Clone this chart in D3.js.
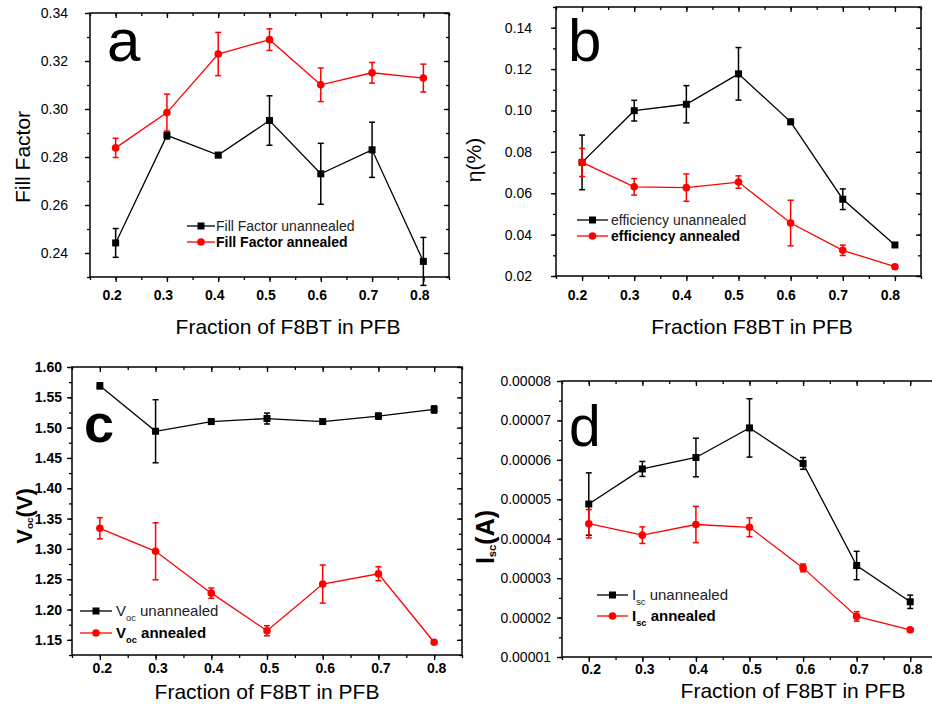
<!DOCTYPE html>
<html>
<head>
<meta charset="utf-8">
<script src="https://cdn.jsdelivr.net/npm/d3@7"></script>
<style>
  html, body { margin: 0; padding: 0; background: #fff; }
  svg { display: block; font-family: "Liberation Sans", Arial, Helvetica, sans-serif; }
</style>
</head>
<body>
<svg id="chart" width="932" height="704"></svg>
<script>
// Blend fraction of F8BT in PFB (shared x values)
const fractions = [0.2, 0.3, 0.4, 0.5, 0.6, 0.7, 0.8];
const xTickLabels = ["0.2", "0.3", "0.4", "0.5", "0.6", "0.7", "0.8"];

// (a) Fill factor
const ffUnannealed    = [0.2442, 0.2890, 0.2808, 0.2952, 0.2730, 0.2830, 0.2365];
const ffUnannealedErr = [0.0060, 0.0015, 0.0010, 0.0103, 0.0127, 0.0115, 0.0100];
const ffAnnealed      = [0.2838, 0.2985, 0.3229, 0.3289, 0.3101, 0.3151, 0.3129];
const ffAnnealedErr   = [0.0040, 0.0077, 0.0090, 0.0045, 0.0070, 0.0043, 0.0058];
const ffTickLabels    = ["0.24", "0.26", "0.28", "0.30", "0.32", "0.34"];

// (b) Power conversion efficiency, %
const effUnannealed    = [0.0749, 0.0999, 0.1030, 0.1177, 0.0945, 0.0571, 0.0350];
const effUnannealedErr = [0.0132, 0.0050, 0.0090, 0.0127, 0.0012, 0.0050, 0.0005];
const effAnnealed      = [0.0749, 0.0631, 0.0627, 0.0654, 0.0456, 0.0324, 0.0245];
const effAnnealedErr   = [0.0068, 0.0040, 0.0066, 0.0030, 0.0110, 0.0025, 0.0010];
const effTickLabels    = ["0.02", "0.04", "0.06", "0.08", "0.10", "0.12", "0.14"];

// (c) Open-circuit voltage, V
const vocUnannealed    = [1.569, 1.494, 1.510, 1.515, 1.510, 1.519, 1.530];
const vocUnannealedErr = [0.005, 0.052, 0.002, 0.009, 0.002, 0.005, 0.006];
const vocAnnealed      = [1.334, 1.296, 1.227, 1.165, 1.242, 1.259, 1.146];
const vocAnnealedErr   = [0.0175, 0.047, 0.0085, 0.0083, 0.0314, 0.0115, 0.002];
const vocTickLabels    = ["1.15", "1.20", "1.25", "1.30", "1.35", "1.40", "1.45", "1.50", "1.55", "1.60"];

// (d) Short-circuit current, A
const iscUnannealed    = [4.88e-5, 5.77e-5, 6.06e-5, 6.81e-5, 5.91e-5, 3.32e-5, 2.40e-5];
const iscUnannealedErr = [0.79e-5, 0.19e-5, 0.49e-5, 0.74e-5, 0.15e-5, 0.36e-5, 0.17e-5];
const iscAnnealed      = [4.38e-5, 4.09e-5, 4.36e-5, 4.29e-5, 3.26e-5, 2.03e-5, 1.69e-5];
const iscAnnealedErr   = [0.36e-5, 0.21e-5, 0.46e-5, 0.24e-5, 0.10e-5, 0.12e-5, 0.05e-5];
const iscTickLabels    = ["0.00001", "0.00002", "0.00003", "0.00004", "0.00005", "0.00006", "0.00007", "0.00008"];

const svg = d3.select("#chart");
const BLACK = "#000", RED = "#ff0000";

function minorSteps(lo, hi, step) {
  const out = [];
  const n = Math.round((hi - lo) / step);
  for (let i = 0; i <= n; i++) out.push(+(lo + i * step).toPrecision(10));
  return out;
}

function drawPanel(cfg) {
  const g = svg.append("g");
  const x = d3.scaleLinear().domain([0.15, 0.85]).range([cfg.left, cfg.right]);
  const y = d3.scaleLinear().domain(cfg.yDomain).range([cfg.bottom, cfg.top]);

  const xVals = xTickLabels.map(Number);
  const yVals = cfg.yLabels.map(Number);
  const xMinor = minorSteps(0.15, 0.85, 0.05);
  const yMinor = minorSteps(cfg.yDomain[0], cfg.yDomain[1], cfg.yMinorStep);

  const styleAxis = sel => {
    sel.select(".domain").remove();
    sel.selectAll("line").attr("stroke", BLACK).attr("stroke-width", 1.3);
  };

  // minor ticks, all four sides
  g.append("g").attr("transform", `translate(0,${cfg.bottom})`)
    .call(d3.axisBottom(x).tickValues(xMinor).tickFormat("").tickSize(3)).call(styleAxis);
  g.append("g").attr("transform", `translate(0,${cfg.top})`)
    .call(d3.axisTop(x).tickValues(xMinor).tickFormat("").tickSize(-3)).call(styleAxis);
  g.append("g").attr("transform", `translate(${cfg.left},0)`)
    .call(d3.axisLeft(y).tickValues(yMinor).tickFormat("").tickSize(3)).call(styleAxis);
  g.append("g").attr("transform", `translate(${cfg.right},0)`)
    .call(d3.axisRight(y).tickValues(yMinor).tickFormat("").tickSize(-3)).call(styleAxis);

  // major ticks with labels on bottom and left
  const xAxis = g.append("g").attr("transform", `translate(0,${cfg.bottom})`)
    .call(d3.axisBottom(x).tickValues(xVals)
      .tickFormat(d => xTickLabels[xVals.indexOf(d)])
      .tickSize(5).tickPadding(cfg.xPad))
    .call(styleAxis);
  xAxis.selectAll("text")
    .attr("font-size", 14).attr("font-weight", "bold").attr("fill", BLACK)
    .attr("dx", cfg.xLabelShift);

  const yAxis = g.append("g").attr("transform", `translate(${cfg.left},0)`)
    .call(d3.axisLeft(y).tickValues(yVals)
      .tickFormat(d => cfg.yLabels[yVals.indexOf(d)])
      .tickSize(5).tickPadding(cfg.yPad))
    .call(styleAxis);
  yAxis.selectAll("text")
    .attr("font-size", 14).attr("font-weight", cfg.yBold ? "bold" : "normal").attr("fill", BLACK);

  g.append("g").attr("transform", `translate(0,${cfg.top})`)
    .call(d3.axisTop(x).tickValues(xVals).tickFormat("").tickSize(-5)).call(styleAxis);
  g.append("g").attr("transform", `translate(${cfg.right},0)`)
    .call(d3.axisRight(y).tickValues(yVals).tickFormat("").tickSize(-5)).call(styleAxis);

  // plot frame
  g.append("rect")
    .attr("x", cfg.left).attr("y", cfg.top)
    .attr("width", cfg.right - cfg.left).attr("height", cfg.bottom - cfg.top)
    .attr("fill", "none").attr("stroke", BLACK).attr("stroke-width", 1.5);

  // data series
  cfg.series.forEach(s => {
    const pts = fractions.map((f, i) => ({ f, v: s.values[i], e: s.errors[i] }));
    const sg = g.append("g");
    sg.append("path")
      .datum(pts)
      .attr("fill", "none").attr("stroke", s.color).attr("stroke-width", 1.3)
      .attr("d", d3.line().x(d => x(d.f)).y(d => y(d.v)));

    const eb = sg.selectAll("g.err").data(pts).join("g").attr("class", "err")
      .attr("stroke", s.color).attr("stroke-width", 1.5);
    eb.append("line")
      .attr("x1", d => x(d.f)).attr("x2", d => x(d.f))
      .attr("y1", d => y(d.v - d.e)).attr("y2", d => y(d.v + d.e));
    eb.append("line")
      .attr("x1", d => x(d.f) - 3).attr("x2", d => x(d.f) + 3)
      .attr("y1", d => y(d.v + d.e)).attr("y2", d => y(d.v + d.e));
    eb.append("line")
      .attr("x1", d => x(d.f) - 3).attr("x2", d => x(d.f) + 3)
      .attr("y1", d => y(d.v - d.e)).attr("y2", d => y(d.v - d.e));

    if (s.marker === "square") {
      sg.selectAll("rect.mk").data(pts).join("rect").attr("class", "mk")
        .attr("x", d => x(d.f) - 3.5).attr("y", d => y(d.v) - 3.5)
        .attr("width", 7).attr("height", 7).attr("fill", s.color);
    } else {
      sg.selectAll("circle.mk").data(pts).join("circle").attr("class", "mk")
        .attr("cx", d => x(d.f)).attr("cy", d => y(d.v)).attr("r", 3.8).attr("fill", s.color);
    }
  });

  // legend
  cfg.series.forEach((s, i) => {
    const ly = cfg.legend.y[i];
    const lx = cfg.legend.x;
    const len = cfg.legend.len;
    g.append("line").attr("x1", lx).attr("x2", lx + len).attr("y1", ly).attr("y2", ly)
      .attr("stroke", s.color).attr("stroke-width", 1.3);
    if (s.marker === "square") {
      g.append("rect").attr("x", lx + len / 2 - 3.5).attr("y", ly - 3.5)
        .attr("width", 7).attr("height", 7).attr("fill", s.color);
    } else {
      g.append("circle").attr("cx", lx + len / 2).attr("cy", ly).attr("r", 3.8).attr("fill", s.color);
    }
    const t = g.append("text")
      .attr("x", cfg.legend.textX).attr("y", ly + cfg.legend.size * 0.36)
      .attr("font-size", cfg.legend.size)
      .attr("font-weight", i === 1 ? "bold" : "normal")
      .attr("fill", i === 1 ? "#000" : "#222");
    s.label.forEach(part => {
      const ts = t.append("tspan").text(part.t);
      if (part.sub) ts.attr("font-size", cfg.legend.size * 0.62).attr("dy", 5);
      if (part.after) ts.attr("dy", -5);
    });
  });

  // panel letter
  g.append("text")
    .attr("x", cfg.letter.x).attr("y", cfg.letter.y)
    .attr("font-size", cfg.letter.size).attr("font-weight", cfg.letter.bold ? "bold" : "normal")
    .attr("fill", BLACK).text(cfg.letter.t);

  // x title
  g.append("text")
    .attr("x", cfg.xTitle.x).attr("y", cfg.xTitle.y)
    .attr("text-anchor", "middle").attr("font-size", 21).attr("fill", BLACK)
    .text(cfg.xTitle.t);

  // y title (rotated)
  const yt = g.append("text")
    .attr("transform", `translate(${cfg.yTitle.x},${cfg.yTitle.y}) rotate(-90)`)
    .attr("text-anchor", "middle").attr("font-size", cfg.yTitle.size)
    .attr("font-weight", cfg.yTitle.bold ? "bold" : "normal").attr("fill", BLACK);
  const subDy = cfg.yTitle.subDy || 0;
  cfg.yTitle.parts.forEach(part => {
    const ts = yt.append("tspan").text(part.t);
    if (part.sub) ts.attr("font-size", cfg.yTitle.size * 0.45).attr("dy", subDy);
    if (part.after) ts.attr("dy", -subDy);
  });
}

drawPanel({
  left: 90, right: 449, top: 13, bottom: 277,
  yDomain: [0.23, 0.34], yMinorStep: 0.01, yLabels: ffTickLabels,
  xPad: 8, yPad: 17, xLabelShift: -4, yBold: false,
  series: [
    { values: ffUnannealed, errors: ffUnannealedErr, color: BLACK, marker: "square",
      label: [{ t: "Fill Factor unannealed" }] },
    { values: ffAnnealed, errors: ffAnnealedErr, color: RED, marker: "circle",
      label: [{ t: "Fill Factor annealed" }] }
  ],
  legend: { x: 187, len: 28, textX: 216, y: [226, 242], size: 14 },
  letter: { t: "a", x: 107, y: 61, size: 60 },
  xTitle: { t: "Fraction of F8BT in PFB", x: 288, y: 334 },
  yTitle: { parts: [{ t: "Fill Factor" }], x: 30, y: 157, size: 21 }
});

drawPanel({
  left: 556, right: 921, top: 7, bottom: 276,
  yDomain: [0.02, 0.15], yMinorStep: 0.01, yLabels: effTickLabels,
  xPad: 9, yPad: 19, xLabelShift: -5, yBold: false,
  series: [
    { values: effUnannealed, errors: effUnannealedErr, color: BLACK, marker: "square",
      label: [{ t: "efficiency unannealed" }] },
    { values: effAnnealed, errors: effAnnealedErr, color: RED, marker: "circle",
      label: [{ t: "efficiency annealed" }] }
  ],
  legend: { x: 577, len: 31, textX: 611, y: [220, 236], size: 14 },
  letter: { t: "b", x: 568, y: 61, size: 60 },
  xTitle: { t: "Fraction F8BT in PFB", x: 752, y: 334 },
  yTitle: { parts: [{ t: "η(%)" }], x: 481, y: 160, size: 21 }
});

drawPanel({
  left: 72, right: 462, top: 367, bottom: 655,
  yDomain: [1.125, 1.60], yMinorStep: 0.025, yLabels: vocTickLabels,
  xPad: 3, yPad: 5, xLabelShift: 2, yBold: true,
  series: [
    { values: vocUnannealed, errors: vocUnannealedErr, color: BLACK, marker: "square",
      label: [{ t: "V" }, { t: "oc", sub: true }, { t: " unannealed", after: true }] },
    { values: vocAnnealed, errors: vocAnnealedErr, color: RED, marker: "circle",
      label: [{ t: "V" }, { t: "oc", sub: true }, { t: " annealed", after: true }] }
  ],
  legend: { x: 80, len: 32, textX: 116, y: [611, 633], size: 15 },
  letter: { t: "c", x: 84, y: 442, size: 54, bold: true },
  xTitle: { t: "Fraction of F8BT in PFB", x: 267, y: 699 },
  yTitle: { parts: [{ t: "V" }, { t: "oc", sub: true }, { t: "(V)", after: true }], x: 32, y: 516, size: 22, bold: true, subDy: 1 },
});

drawPanel({
  left: 562, right: 937, top: 381, bottom: 657,
  yDomain: [0.00001, 0.00008], yMinorStep: 0.000005, yLabels: iscTickLabels,
  xPad: 2, yPad: 6, xLabelShift: 2, yBold: false,
  series: [
    { values: iscUnannealed, errors: iscUnannealedErr, color: BLACK, marker: "square",
      label: [{ t: "I" }, { t: "sc", sub: true }, { t: " unannealed", after: true }] },
    { values: iscAnnealed, errors: iscAnnealedErr, color: RED, marker: "circle",
      label: [{ t: "I" }, { t: "sc", sub: true }, { t: " annealed", after: true }] }
  ],
  legend: { x: 597, len: 31, textX: 632, y: [595, 616], size: 15 },
  letter: { t: "d", x: 569, y: 446, size: 57 },
  xTitle: { t: "Fraction of F8BT in PFB", x: 793, y: 697.5 },
  yTitle: { parts: [{ t: "I" }, { t: "sc", sub: true }, { t: "(A)", after: true }], x: 494, y: 537, size: 25, bold: true, subDy: 2 },
});
</script>
</body>
</html>
